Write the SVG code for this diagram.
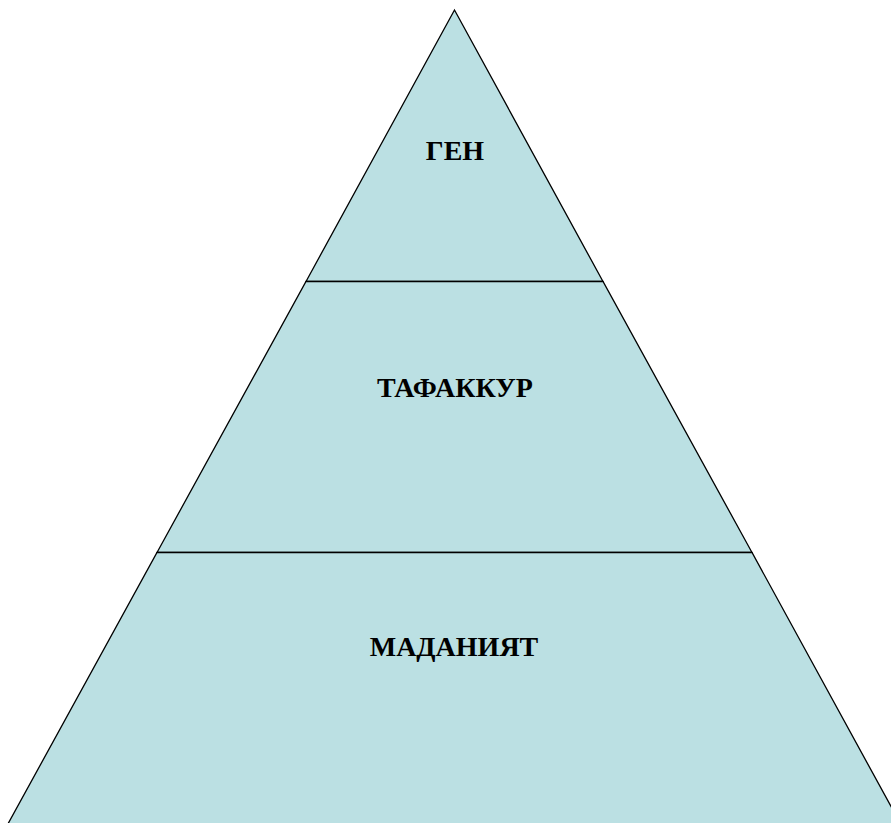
<svg xmlns="http://www.w3.org/2000/svg" width="891" height="823" viewBox="0 0 891 823">
<style>
.lvl{fill:#BBE0E3;stroke:#000;stroke-width:1.3}
.lbl{font-family:"Liberation Serif","Times New Roman",serif;font-weight:bold;font-size:28px;fill:#000;text-anchor:middle}
</style>
<rect width="891" height="823" fill="#fff"/>
<g id="level-gen">
<polygon class="lvl" points="454.5,10 306,281.5 603,281.5"/>
<text class="lbl" x="455" y="160">ГЕН</text>
</g>
<g id="level-tafakkur">
<polygon class="lvl" points="306,281.5 603,281.5 752,552.5 157,552.5"/>
<text class="lbl" x="455" y="397">ТАФАККУР</text>
</g>
<g id="level-madaniyat">
<polygon class="lvl" points="157,552.5 752,552.5 905,832 3.5,832"/>
<text class="lbl" x="454" y="656">МАДАНИЯТ</text>
</g>
</svg>
